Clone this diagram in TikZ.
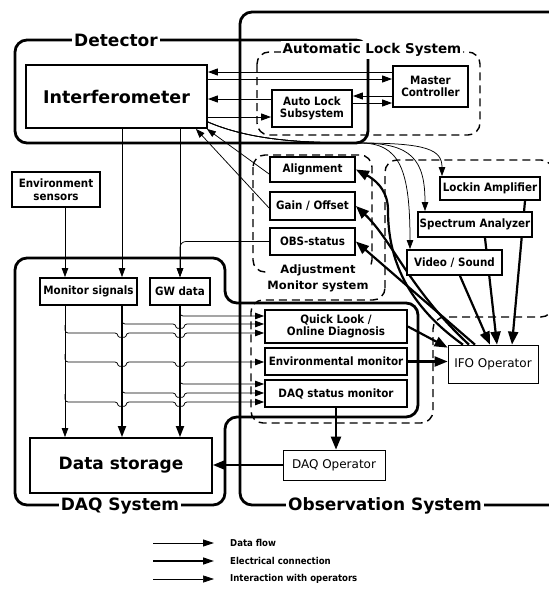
\documentclass[tikz,border=0pt]{standalone}
\usepackage{fontspec}
\setmainfont{DejaVu Sans}
\newfontfamily\cb{DejaVu Sans Condensed Bold}
\newfontfamily\hb{DejaVu Sans Bold}
\usetikzlibrary{arrows.meta}
\pgfdeclarelayer{back}
\pgfdeclarelayer{mid}
\pgfsetlayers{back,mid,main}
\begin{document}
\begin{tikzpicture}[x=1pt,y=-1pt,
  frame/.style={line width=2.8pt, rounded corners=12pt},
  dframe/.style={line width=1.4pt, dash pattern=on 8pt off 5pt, rounded corners=12pt},
  box/.style={draw, line width=1.8pt, fill=white, inner sep=0pt, align=center, font=\cb\fontsize{11.5}{12.5}\selectfont},
  opbox/.style={draw, line width=0.7pt, fill=white, inner sep=0pt, font=\fontsize{12}{14}\selectfont},
  flow/.style={line width=0.75pt, -{Triangle[length=9pt,width=6.5pt]}},
  tflow/.style={line width=1.8pt, -{Triangle[length=11pt,width=8pt]}},
  elec/.style={line width=1pt, -{Triangle[length=10pt,width=7pt]}},
  oper/.style={line width=2.2pt, -{Triangle[length=13pt,width=10pt]}},
  ttl/.style={fill=white, inner sep=2pt, font=\hb\fontsize{17}{19}\selectfont},
  sttl/.style={fill=white, inner sep=1pt, align=center, font=\hb\fontsize{11.5}{16}\selectfont},
  leg/.style={anchor=west, inner sep=0pt, font=\cb\fontsize{9.5}{11}\selectfont},
]
\useasboundingbox (0,0) rectangle (549,590);

% ---------- nodes ----------
\node[box, minimum width=181pt, minimum height=63pt, font=\hb\fontsize{17.5}{20}\selectfont] (ifo) at (116.5,96.5) {Interferometer};
\node[box, minimum width=75pt, minimum height=41pt] (mc) at (430.5,86.5) {Master\\Controller};
\node[box, minimum width=80pt, minimum height=37pt] (al) at (312,108.5) {Auto Lock\\Subsystem};
\node[box, minimum width=88pt, minimum height=35pt] (es) at (56,189.5) {Environment\\sensors};
\node[box, minimum width=97pt, minimum height=27pt] (ms) at (88.5,291.5) {Monitor signals};
\node[box, minimum width=60pt, minimum height=27pt] (gw) at (180,291.5) {GW data};
\node[box, minimum width=182pt, minimum height=55pt, font=\hb\fontsize{17}{20}\selectfont] (ds) at (121,465.5) {Data storage};
\node[box, minimum width=85pt, minimum height=25pt] (align) at (312.5,169.5) {Alignment};
\node[box, minimum width=85pt, minimum height=28pt] (gain) at (312.5,206) {Gain / Offset};
\node[box, minimum width=85pt, minimum height=27pt] (obs) at (312.5,241.5) {OBS-status};
\node[box, minimum width=142pt, minimum height=33pt] (ql) at (336,326.5) {Quick Look /\\Online Diagnosis};
\node[box, minimum width=142pt, minimum height=27pt] (em) at (336,361.5) {Environmental monitor};
\node[box, minimum width=142pt, minimum height=27pt] (dsm) at (336,393.5) {DAQ status monitor};
\node[opbox, minimum width=102pt, minimum height=30pt] (dop) at (334,465) {DAQ Operator};
\node[opbox, minimum width=90pt, minimum height=38pt] (iop) at (493,364) {IFO Operator};
\node[box, minimum width=100pt, minimum height=23pt] (lock) at (490,188.5) {Lockin Amplifier};
\node[box, minimum width=114pt, minimum height=25pt] (spec) at (475,224.5) {Spectrum Analyzer};
\node[box, minimum width=95pt, minimum height=25pt] (vid) at (454.5,262.5) {Video / Sound};

% ---------- frames ----------
\begin{pgfonlayer}{back}
  % Detector
  \draw[frame] (15,40) rectangle (368,143);
  % Observation system (open to the right)
  \draw[frame] (560,12) -- (240,12) -- (240,505) -- (560,505);
  % DAQ system
  \draw[frame] (15,258) -- (225,258) -- (225,303) -- (418,303) -- (418,417) -- (225,417) -- (225,505) -- (15,505) -- cycle;
  % Automatic lock system
  \draw[dframe] (257,52) rectangle (480,135);
  % Adjustment-monitor system
  \draw[dframe] (253,155) rectangle (372,272);
  % signal monitoring region
  \draw[dframe] (385,300) -- (385,160) -- (553,160) -- (553,317) -- (433,317) -- (433,423) -- (251,423) -- (251,300) -- cycle;
\end{pgfonlayer}

% ---------- connectors ----------
\begin{pgfonlayer}{mid}
  % lock system
  \draw[elec] (mc.west |- 0,72) -- (ifo.east |- 0,72);
  \draw[elec] (ifo.east |- 0,79) -- (mc.west |- 0,79);
  \draw[elec] (al.west |- 0,99) -- (ifo.east |- 0,99);
  \draw[elec] (ifo.east |- 0,117) -- (al.west |- 0,117);
  \draw[elec] (mc.west |- 0,96) -- (al.east |- 0,96);
  \draw[elec] (al.east |- 0,103) -- (mc.west |- 0,103);
  % interferometer to signal monitors
  \draw[flow] (ifo.east |- 0,122) .. controls (250,140) and (300,143) .. (360,143) .. controls (400,143) and (410,170) .. (vid.north -| 410,0);
  \draw[flow] (ifo.east |- 0,122) .. controls (250,140) and (300,143) .. (360,143) .. controls (412,143) and (425,160) .. (spec.north -| 425,0);
  \draw[flow] (ifo.east |- 0,122) .. controls (250,140) and (300,143) .. (360,143) .. controls (428,143) and (442,150) .. (lock.north -| 442,0);
  % adjustment to interferometer
  \draw[flow] (align.west |- 0,174) -- ([xshift=-1pt]ifo.south east);
  \draw[flow] (gain.west |- 0,208) -- ([xshift=-12pt]ifo.south east);
  % verticals
  \draw[flow] (ifo.south -| 122,0) -- (ms.north -| 122,0);
  \draw[flow] (ifo.south -| gw.north) -- (gw.north);
  \draw[flow, rounded corners=6pt] (obs.west) -| (gw.north);
  \draw[flow] (es.south -| 65,0) -- (ms.north -| 65,0);
  \draw[flow] (ms.south -| 65,0) -- (ds.north -| 65,0);
  \draw[tflow] (ms.south -| 122,0) -- (ds.north -| 122,0);
  \draw[tflow] (gw.south) -- (ds.north -| gw.south);
  % horizontal data flows with hops
  \draw[flow, rounded corners=3pt] (180,308) |- (ql.west |- 0,316);
  \draw[flow, rounded corners=3pt] (122,316) |- (176,324) .. controls (176,329) and (184,329) .. (184,324) -- (ql.west |- 0,324);
  \draw[flow, rounded corners=3pt] (65,325) |- (118,333) .. controls (118,338) and (126,338) .. (126,333) -- (176,333) .. controls (176,338) and (184,338) .. (184,333) -- (ql.west |- 0,333);
  \draw[flow, rounded corners=3pt] (65,354) |- (118,362) .. controls (118,367) and (126,367) .. (126,362) -- (176,362) .. controls (176,367) and (184,367) .. (184,362) -- (em.west |- 0,362);
  \draw[flow, rounded corners=3pt] (180,376) |- (dsm.west |- 0,384);
  \draw[flow, rounded corners=3pt] (122,385) |- (176,393) .. controls (176,398) and (184,398) .. (184,393) -- (dsm.west |- 0,393);
  \draw[flow, rounded corners=3pt] (65,394) |- (118,402) .. controls (118,407) and (126,407) .. (126,402) -- (176,402) .. controls (176,407) and (184,407) .. (184,402) -- (dsm.west |- 0,402);
  % operator interactions
  \draw[oper] (ql.east) -- ([yshift=-3pt]iop.north west);
  \draw[oper] (em.east) -- (iop.west |- em.east);
  \draw[oper] (dsm.south) -- (dop.north -| dsm.south);
  \draw[oper] (dop.west) -- (ds.east |- dop.west);
  \draw[oper] (vid.south -| 460,0) -- ([xshift=-3pt]iop.north);
  \draw[oper] (spec.south -| 485,0) -- ([xshift=4pt]iop.north);
  \draw[oper] (lock.south -| 525,0) -- ([xshift=19pt]iop.north);
  \draw[oper] ([xshift=-18pt]iop.north) -- (obs.east);
  \draw[oper] ([xshift=-24pt]iop.north) .. controls (410,290) and (392,240) .. (gain.east);
  \draw[oper] ([xshift=-30pt]iop.north) .. controls (400,300) and (388,250) .. (388,210) .. controls (388,188) and (372,178) .. (align.east);
\end{pgfonlayer}

% ---------- titles ----------
\node[ttl] (tdet) at (116,40) {Detector};
\node[ttl] (tdaq) at (120,506) {DAQ System};
\node[ttl] (tobs) at (385,506) {Observation System};
\node[fill=white, inner sep=2pt, font=\hb\fontsize{13.5}{15}\selectfont] (tals) at (372,50) {Automatic Lock System};
\node[sttl, anchor=north] (tadj) at (318,264) {Adjustment\\Monitor system};

% ---------- legend ----------
\coordinate (l1a) at (153,543); \coordinate (l1b) at (214,543);
\coordinate (l2a) at (153,561); \coordinate (l2b) at (214,561);
\coordinate (l3a) at (153,579); \coordinate (l3b) at (214,579);
\draw[line width=0.9pt, -{Triangle[length=11pt,width=7pt]}] (l1a) -- (l1b);
\draw[line width=1.4pt, -{Triangle[length=11pt,width=7pt]}] (l2a) -- (l2b);
\draw[line width=0.6pt, -{Triangle[length=11pt,width=7pt]}] (l3a) -- (l3b);
\node[leg] (t1) at (230,543) {Data flow};
\node[leg] (t2) at (230,561) {Electrical connection};
\node[leg] (t3) at (230,579) {Interaction with operators};
\end{tikzpicture}
\end{document}
